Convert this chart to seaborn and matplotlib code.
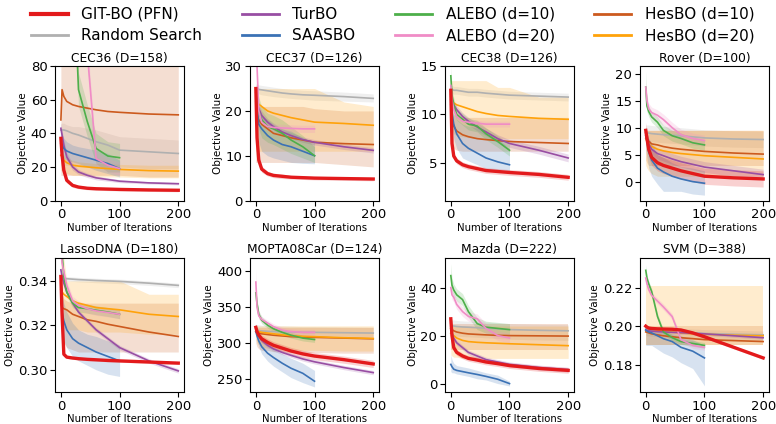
import numpy as np
import pandas as pd
import matplotlib
matplotlib.use("Agg")
import matplotlib.pyplot as plt
from matplotlib.lines import Line2D
import seaborn as sns

# ---------------- data ----------------
METHODS = ["GIT-BO (PFN)", "Random Search", "TurBO", "SAASBO",
           "ALEBO (d=10)", "ALEBO (d=20)", "HesBO (d=10)", "HesBO (d=20)"]
COLORS = ["#e31a1c", "#b0b0b0", "#984ea3", "#3b72b5",
          "#4daf4a", "#f08cc6", "#cc5a1e", "#ffa20a"]
X_FULL = [0, 2, 5, 10, 20, 30, 45, 60, 80, 100, 150, 200]
X_HALF = [0, 2, 5, 10, 20, 30, 45, 60, 80, 100]

TITLES = ["CEC36 (D=158)", "CEC37 (D=126)", "CEC38 (D=126)", "Rover (D=100)",
          "LassoDNA (D=180)", "MOPTA08Car (D=124)", "Mazda (D=222)", "SVM (D=388)"]
YLIMS = [(0, 80), (0, 30), (1.1, 15), (-3.5, 21.4),
         (0.29, 0.3505), (232, 419), (-3.5, 52.5), (0.1658, 0.2356)]
YTICKS = [[0, 20, 40, 60, 80], [0, 10, 20, 30], [5, 10, 15], [0, 5, 10, 15, 20],
          [0.30, 0.32, 0.34], [250, 300, 350, 400], [0, 20, 40], [0.18, 0.20, 0.22]]

# ---- CEC36 ----
CEC36_MEAN = {
    "GIT-BO (PFN)": [37, 27, 18, 12, 9, 8, 7.3, 7, 6.8, 6.6, 6.3, 6.1],
    "Random Search": [42, 42, 42, 41.5, 40, 39, 37, 35, 33, 30, 29, 28],
    "TurBO": [43, 39, 33, 26, 20, 17, 15, 13.5, 12.5, 11.5, 10.5, 10],
    "SAASBO": [34, 33, 31, 29.5, 28, 27, 25.5, 24, 22, 19],
    "ALEBO (d=10)": [150, 150, 150, 150, 150, 66, 47, 31, 26.5, 25.5],
    "ALEBO (d=20)": [150, 150, 150, 150, 150, 150, 88, 25, 21, 19],
    "HesBO (d=10)": [48, 66, 62, 59, 57, 56, 55, 54, 53, 52.5, 51.5, 51],
    "HesBO (d=20)": [27, 26, 24, 22.5, 21, 20.5, 20, 19.5, 19, 18.5, 17.8, 17.5],
}
CEC36_LO = {
    "GIT-BO (PFN)": [35, 24, 16, 10.5, 7.8, 7, 6.4, 6.1, 5.9, 5.7, 5.4, 5.2],
    "Random Search": [21, 21, 21, 21, 21, 20, 20, 20, 20, 20, 19, 19],
    "TurBO": [40, 36, 30, 23.5, 18, 15.5, 13.7, 12.3, 11.5, 10.6, 9.8, 9.3],
    "SAASBO": [27, 26, 25, 24, 23, 22, 20, 18, 16, 14],
    "ALEBO (d=10)": [140, 140, 140, 140, 140, 56, 38, 22, 17, 17],
    "ALEBO (d=20)": [140, 140, 140, 140, 140, 140, 82, 21, 17, 15],
    "HesBO (d=10)": [15, 15, 15, 15, 15, 15, 15, 15, 15, 15, 14, 14],
    "HesBO (d=20)": [18, 18, 17, 16, 15, 15, 14.5, 14, 14, 14, 13.5, 13.5],
}
CEC36_HI = {
    "GIT-BO (PFN)": [39, 30, 20, 13.5, 10.2, 9, 8.2, 7.9, 7.7, 7.5, 7.2, 7],
    "Random Search": [46, 46, 46, 45, 44, 44, 43, 42, 40, 38, 37, 36],
    "TurBO": [46, 42, 36, 28.5, 22, 18.5, 16.3, 14.7, 13.5, 12.4, 11.2, 10.7],
    "SAASBO": [41, 40, 37, 35, 33, 32, 31, 30, 28, 24],
    "ALEBO (d=10)": [160, 160, 160, 160, 160, 76, 57, 40, 35, 34],
    "ALEBO (d=20)": [160, 160, 160, 160, 160, 160, 95, 29, 25, 23],
    "HesBO (d=10)": [90, 90, 90, 90, 90, 90, 90, 90, 90, 90, 90, 90],
    "HesBO (d=20)": [30, 29, 27, 25, 24, 23, 22.5, 22, 22, 21.5, 21, 21],
}

# ---- CEC37 ----
CEC37_MEAN = {
    "GIT-BO (PFN)": [25, 14, 9, 7, 6, 5.6, 5.4, 5.2, 5.1, 5, 4.9, 4.8],
    "Random Search": [25, 25, 24.8, 24.7, 24.5, 24.3, 24, 23.8, 23.6, 23.5, 23.2, 22.8],
    "TurBO": [24, 22, 20.5, 19, 17.5, 16.5, 15.3, 14.5, 13.6, 13, 12, 11.2],
    "SAASBO": [22, 20.5, 17, 16, 14.5, 13.5, 12.5, 12, 11, 10],
    "ALEBO (d=10)": [24, 22, 20, 18, 16.5, 16, 15, 13.5, 12, 10],
    "ALEBO (d=20)": [38, 30, 20, 17.5, 16.5, 16.3, 16.2, 16.1, 16, 16],
    "HesBO (d=10)": [19, 19, 18, 17, 16, 15, 14.5, 14, 13.5, 13, 12.7, 12.5],
    "HesBO (d=20)": [22, 22, 21.5, 21, 20, 19.5, 19, 18.5, 18, 17.5, 17.2, 16.8],
}
CEC37_LO = {
    "GIT-BO (PFN)": [23.5, 12.5, 8, 6.3, 5.5, 5.1, 4.9, 4.8, 4.7, 4.6, 4.5, 4.4],
    "Random Search": [24, 24, 23.8, 23.6, 23.4, 23.2, 23, 22.8, 22.6, 22.4, 22.2, 22],
    "TurBO": [23, 21, 19.5, 18, 16.7, 15.7, 14.6, 13.8, 13, 12.4, 11.4, 10.6],
    "SAASBO": [18, 17, 13, 11, 10, 9.5, 9, 8.5, 8.3, 8.2],
    "ALEBO (d=10)": [22, 19, 16, 14, 13, 12.5, 11.5, 10.5, 9.5, 8.5],
    "ALEBO (d=20)": [37, 29, 19, 16.7, 15.7, 15.5, 15.4, 15.3, 15.2, 15.2],
    "HesBO (d=10)": [8.5, 8.5, 8.5, 8.5, 8.5, 8.5, 8.5, 8.5, 8.5, 8.5, 8, 7.5],
    "HesBO (d=20)": [11, 11, 11, 11, 11, 11, 11, 11, 11, 11, 11, 11],
}
CEC37_HI = {
    "GIT-BO (PFN)": [26.5, 15.5, 10, 7.7, 6.5, 6.1, 5.9, 5.6, 5.5, 5.4, 5.3, 5.2],
    "Random Search": [26, 26, 25.8, 25.7, 25.5, 25.3, 25, 24.8, 24.6, 24.5, 24.2, 23.8],
    "TurBO": [25, 23, 21.5, 20, 18.3, 17.3, 16, 15.2, 14.2, 13.6, 12.6, 11.8],
    "SAASBO": [25, 24, 20, 19, 18, 17, 16, 15.5, 14, 13],
    "ALEBO (d=10)": [26, 25, 23, 21, 19.5, 19, 18, 16.5, 14.5, 12],
    "ALEBO (d=20)": [39, 31, 21, 18.3, 17.3, 17.1, 17, 16.9, 16.8, 16.8],
    "HesBO (d=10)": [21, 21, 21, 21, 21, 21, 21, 21, 21, 20.5, 20, 20],
    "HesBO (d=20)": [25, 25, 25, 25, 25, 25, 25, 25, 25, 25, 22, 21],
}

# ---- CEC38 ----
CEC38_MEAN = {
    "GIT-BO (PFN)": [12.5, 7, 5.7, 5.2, 4.8, 4.6, 4.4, 4.2, 4.1, 4, 3.8, 3.5],
    "Random Search": [12.6, 12.6, 12.5, 12.5, 12.4, 12.3, 12.3, 12.2, 12.1, 12, 11.9, 11.8],
    "TurBO": [12, 11.5, 11, 10.5, 9.8, 9.3, 8.7, 8.2, 7.5, 7, 6.3, 5.5],
    "SAASBO": [11, 10.2, 9, 8, 7, 6.5, 6, 5.5, 5.1, 4.8],
    "ALEBO (d=10)": [14, 12, 11, 10, 9.5, 9, 8.8, 8, 7.2, 6.3],
    "ALEBO (d=20)": [13, 11.5, 10.5, 9.8, 9.3, 9.2, 9.1, 9, 9, 9],
    "HesBO (d=10)": [11.5, 9.5, 8.8, 8.3, 7.9, 7.7, 7.5, 7.4, 7.3, 7.2, 7.1, 7],
    "HesBO (d=20)": [11.8, 11.4, 11.2, 11, 10.8, 10.6, 10.3, 10.1, 9.9, 9.8, 9.6, 9.5],
}
CEC38_LO = {
    "GIT-BO (PFN)": [12.2, 6.6, 5.4, 4.9, 4.5, 4.3, 4.1, 3.9, 3.8, 3.7, 3.5, 3.2],
    "Random Search": [12.2, 12.2, 12.1, 12.1, 12, 11.9, 11.9, 11.8, 11.7, 11.6, 11.5, 11.4],
    "TurBO": [11.6, 11.1, 10.6, 10.1, 9.4, 8.9, 8.3, 7.8, 7.1, 6.6, 5.9, 5.1],
    "SAASBO": [9.5, 8.8, 7.5, 6.5, 5.5, 5.2, 4.8, 4.4, 4.1, 4],
    "ALEBO (d=10)": [13, 11.2, 10.3, 9.4, 8.9, 8.4, 8.2, 7.4, 6.6, 5.7],
    "ALEBO (d=20)": [12.5, 11.2, 10.2, 9.5, 9, 8.9, 8.8, 8.7, 8.7, 8.7],
    "HesBO (d=10)": [8, 7, 6.5, 6.3, 6.2, 6.2, 6.2, 6.2, 6.2, 6.2, 6.2, 6.2],
    "HesBO (d=20)": [9, 8.5, 8, 7.8, 7.7, 7.6, 7.5, 7.5, 7.5, 7.5, 7.5, 7.5],
}
CEC38_HI = {
    "GIT-BO (PFN)": [12.8, 7.4, 6, 5.5, 5.1, 4.9, 4.7, 4.5, 4.4, 4.3, 4.1, 3.8],
    "Random Search": [13, 13, 12.9, 12.9, 12.8, 12.7, 12.7, 12.6, 12.5, 12.4, 12.3, 12.2],
    "TurBO": [12.4, 11.9, 11.4, 10.9, 10.2, 9.7, 9.1, 8.6, 7.9, 7.4, 6.7, 5.9],
    "SAASBO": [12, 11.5, 10.5, 9.5, 9, 8.8, 8.6, 8.2, 7.5, 6.5],
    "ALEBO (d=10)": [15, 12.8, 11.7, 10.6, 10.1, 9.6, 9.4, 8.6, 7.8, 6.9],
    "ALEBO (d=20)": [13.5, 11.8, 10.8, 10.1, 9.6, 9.5, 9.4, 9.3, 9.3, 9.3],
    "HesBO (d=10)": [12, 10.5, 10, 9.8, 9.7, 9.7, 9.7, 9.7, 9.7, 9.7, 9.7, 9.7],
    "HesBO (d=20)": [13.5, 13.5, 13.5, 13.5, 13.5, 13.5, 13.5, 13.5, 12.8, 12.8, 11.8, 11.8],
}

# ---- Rover ----
ROVER_MEAN = {
    "GIT-BO (PFN)": [9.5, 8, 6, 4.5, 3.5, 3, 2.5, 2, 1.5, 1, 0.7, 0.5],
    "Random Search": [9, 9, 9, 8.9, 8.8, 8.7, 8.6, 8.5, 8.3, 8.1, 7.9, 7.8],
    "TurBO": [9, 8, 7, 6, 5.2, 4.8, 4.2, 3.7, 3.2, 2.7, 2, 1.3],
    "SAASBO": [8.5, 7.5, 5.5, 4, 2.5, 1.8, 1, 0.5, 0, -0.3],
    "ALEBO (d=10)": [17.5, 14, 13, 12, 11, 9.5, 8.5, 8, 7.2, 6.8],
    "ALEBO (d=20)": [17.5, 15, 13.5, 12.8, 12.3, 11.5, 10, 8.7, 8, 7.6],
    "HesBO (d=10)": [9, 8, 7.5, 7, 6.8, 6.5, 6.2, 6, 5.8, 5.6, 5.3, 5.1],
    "HesBO (d=20)": [8, 7.5, 7, 6.5, 6, 5.7, 5.4, 5.2, 5, 4.8, 4.5, 4.2],
}
ROVER_LO = {
    "GIT-BO (PFN)": [8, 6.5, 4.5, 3, 2, 1.5, 1, 0.5, 0, -0.5, -0.8, -1],
    "Random Search": [7.5, 7.5, 7.5, 7.4, 7.3, 7.2, 7.1, 7, 6.8, 6.6, 6.4, 6.3],
    "TurBO": [8, 7, 6, 5, 4.2, 3.8, 3.2, 2.7, 2.2, 1.7, 1, 0.3],
    "SAASBO": [6, 4.5, 2.5, 1, -0.5, -1.8, -1.8, -1.8, -2.3, -2.5],
    "ALEBO (d=10)": [15, 13, 12, 11, 10, 8.5, 7.5, 7, 6.2, 5.8],
    "ALEBO (d=20)": [16, 14, 12.5, 11.8, 11.3, 10.5, 9, 7.7, 7, 6.6],
    "HesBO (d=10)": [4, 3.5, 3, 3, 3, 3, 3, 3, 3, 3, 3, 3],
    "HesBO (d=20)": [3, 2.5, 2, 1.5, 1, 1, 1, 1, 1, 1, 1, 1],
}
ROVER_HI = {
    "GIT-BO (PFN)": [11, 9.5, 7.5, 6, 5, 4.5, 4, 3.5, 3, 2.5, 2.2, 2],
    "Random Search": [10.5, 10.5, 10.5, 10.4, 10.3, 10.2, 10.1, 10, 9.8, 9.6, 9.4, 9.3],
    "TurBO": [10, 9, 8, 7, 6.2, 5.8, 5.2, 4.7, 4.2, 3.7, 3, 2.3],
    "SAASBO": [10, 9, 8, 7, 5, 4.5, 3.5, 2.8, 2.5, 2],
    "ALEBO (d=10)": [20.5, 15, 14, 13, 12, 10.5, 9.5, 9, 8.2, 7.8],
    "ALEBO (d=20)": [19, 16, 14.5, 13.8, 13.3, 12.5, 11, 9.7, 9, 8.6],
    "HesBO (d=10)": [9.5, 9.5, 9.5, 9.5, 9.5, 9.5, 9.5, 9.5, 9.5, 9.5, 9.5, 9.5],
    "HesBO (d=20)": [9.5, 9.5, 9.5, 9.5, 9.5, 9.5, 9.5, 9.5, 9.5, 9.5, 9.5, 9.5],
}

# ---- LassoDNA ----
LASSO_MEAN = {
    "GIT-BO (PFN)": [0.342, 0.325, 0.307, 0.3057, 0.3053, 0.305, 0.3047, 0.3045, 0.3042, 0.304, 0.3035, 0.303],
    "Random Search": [0.3415, 0.3413, 0.341, 0.341, 0.3408, 0.3406, 0.3404, 0.3402, 0.340, 0.3398, 0.339, 0.338],
    "TurBO": [0.345, 0.342, 0.339, 0.335, 0.330, 0.326, 0.322, 0.318, 0.314, 0.310, 0.304, 0.2995],
    "SAASBO": [0.335, 0.326, 0.322, 0.318, 0.314, 0.312, 0.310, 0.308, 0.306, 0.304],
    "ALEBO (d=10)": [0.360, 0.352, 0.342, 0.335, 0.330, 0.328, 0.3275, 0.3268, 0.326, 0.325],
    "ALEBO (d=20)": [0.355, 0.348, 0.344, 0.338, 0.331, 0.329, 0.3275, 0.3265, 0.3258, 0.325],
    "HesBO (d=10)": [0.330, 0.328, 0.3275, 0.327, 0.325, 0.324, 0.3225, 0.3218, 0.3205, 0.3195, 0.317, 0.315],
    "HesBO (d=20)": [0.336, 0.335, 0.334, 0.333, 0.331, 0.330, 0.329, 0.328, 0.3275, 0.327, 0.325, 0.324],
}
LASSO_LO = {
    "GIT-BO (PFN)": [0.3412, 0.3242, 0.3063, 0.3051, 0.3047, 0.3044, 0.3041, 0.3039, 0.3036, 0.3034, 0.3029, 0.3024],
    "Random Search": [0.3405, 0.3403, 0.340, 0.340, 0.3398, 0.3396, 0.3394, 0.3392, 0.339, 0.3388, 0.338, 0.337],
    "TurBO": [0.344, 0.341, 0.338, 0.334, 0.329, 0.325, 0.321, 0.317, 0.313, 0.309, 0.303, 0.2985],
    "SAASBO": [0.330, 0.318, 0.313, 0.310, 0.306, 0.304, 0.302, 0.300, 0.298, 0.297],
    "ALEBO (d=10)": [0.356, 0.349, 0.340, 0.333, 0.328, 0.326, 0.3255, 0.3248, 0.324, 0.323],
    "ALEBO (d=20)": [0.352, 0.346, 0.342, 0.336, 0.329, 0.327, 0.3255, 0.3245, 0.3238, 0.323],
    "HesBO (d=10)": [0.320, 0.315, 0.312, 0.310, 0.309, 0.308, 0.308, 0.308, 0.308, 0.308, 0.308, 0.308],
    "HesBO (d=20)": [0.325, 0.322, 0.320, 0.318, 0.318, 0.318, 0.317, 0.317, 0.317, 0.317, 0.316, 0.316],
}
LASSO_HI = {
    "GIT-BO (PFN)": [0.3428, 0.3258, 0.3077, 0.3063, 0.3059, 0.3056, 0.3053, 0.3051, 0.3048, 0.3046, 0.3041, 0.3036],
    "Random Search": [0.3425, 0.3423, 0.342, 0.342, 0.3418, 0.3416, 0.3414, 0.3412, 0.341, 0.3408, 0.340, 0.339],
    "TurBO": [0.346, 0.343, 0.340, 0.336, 0.331, 0.327, 0.323, 0.319, 0.315, 0.311, 0.305, 0.3005],
    "SAASBO": [0.340, 0.334, 0.330, 0.326, 0.321, 0.318, 0.316, 0.315, 0.313, 0.311],
    "ALEBO (d=10)": [0.364, 0.355, 0.344, 0.337, 0.332, 0.330, 0.3295, 0.3288, 0.328, 0.327],
    "ALEBO (d=20)": [0.358, 0.350, 0.346, 0.340, 0.333, 0.331, 0.3295, 0.3285, 0.3278, 0.327],
    "HesBO (d=10)": [0.337, 0.334, 0.332, 0.331, 0.330, 0.330, 0.330, 0.330, 0.330, 0.330, 0.330, 0.330],
    "HesBO (d=20)": [0.350, 0.350, 0.350, 0.340, 0.340, 0.340, 0.340, 0.340, 0.340, 0.340, 0.334, 0.334],
}

# ---- MOPTA08Car ----
MOPTA_MEAN = {
    "GIT-BO (PFN)": [322, 316, 311, 306, 301, 297, 293, 289, 285, 282, 277, 271],
    "Random Search": [318, 318, 317.5, 317, 316.5, 316, 316, 315.5, 315, 315, 314.5, 314],
    "TurBO": [320, 315, 310, 304, 297, 292, 287, 283, 278, 274, 266, 259],
    "SAASBO": [316, 310, 303, 295, 286, 280, 272, 265, 258, 247],
    "ALEBO (d=10)": [370, 355, 340, 332, 325, 320, 315, 311, 307, 305],
    "ALEBO (d=20)": [385, 350, 338, 333, 328, 323, 318, 316, 315, 315],
    "HesBO (d=10)": [316, 315, 314, 313, 312, 311, 310, 309, 308.5, 308, 307, 306],
    "HesBO (d=20)": [317, 316.5, 316, 315, 314, 313, 311.5, 310.5, 309.5, 309, 307.5, 306.5],
}
MOPTA_LO = {
    "GIT-BO (PFN)": [317, 311, 306, 301, 296, 292, 288, 284, 280, 277, 272, 266],
    "Random Search": [313, 313, 312.5, 312, 311.5, 311, 311, 310.5, 310, 310, 309.5, 309],
    "TurBO": [317, 312, 307, 301, 294, 289, 284, 280, 275, 271, 263, 256],
    "SAASBO": [312, 304, 295, 285, 275, 268, 260, 252, 245, 239],
    "ALEBO (d=10)": [360, 349, 335, 327, 321, 316, 311, 307, 303, 301],
    "ALEBO (d=20)": [365, 343, 333, 329, 324, 319, 314, 312, 311, 311],
    "HesBO (d=10)": [300, 295, 292, 290, 290, 288, 288, 287, 287, 287, 286, 286],
    "HesBO (d=20)": [305, 300, 298, 295, 293, 292, 291, 290, 290, 290, 289, 289],
}
MOPTA_HI = {
    "GIT-BO (PFN)": [327, 321, 316, 311, 306, 302, 298, 294, 290, 287, 282, 276],
    "Random Search": [326, 326, 325.5, 325, 324.5, 324, 324, 323.5, 323, 323, 322.5, 322],
    "TurBO": [323, 318, 313, 307, 300, 295, 290, 286, 281, 277, 269, 262],
    "SAASBO": [320, 316, 311, 305, 297, 292, 285, 279, 272, 262],
    "ALEBO (d=10)": [380, 361, 345, 337, 329, 324, 319, 315, 311, 309],
    "ALEBO (d=20)": [405, 357, 343, 337, 332, 327, 322, 320, 319, 319],
    "HesBO (d=10)": [322, 322, 322, 322, 322, 322, 322, 322, 322, 322, 322, 322],
    "HesBO (d=20)": [324, 324, 324, 324, 324, 324, 324, 324, 324, 324, 324, 324],
}

# ---- Mazda ----
MAZDA_MEAN = {
    "GIT-BO (PFN)": [27, 20, 15, 13, 11.5, 10.5, 9.8, 9, 8.3, 7.5, 6.3, 5.5],
    "Random Search": [24, 24, 24, 23.8, 23.6, 23.5, 23.3, 23.1, 22.8, 22.5, 22.2, 22],
    "TurBO": [25, 21, 19, 17, 15, 13, 11.5, 10, 9, 8, 6.7, 5.8],
    "SAASBO": [8, 7, 6, 5.5, 5, 4.5, 3.8, 3, 1.8, 0],
    "ALEBO (d=10)": [45, 41, 39, 37, 35, 30, 25, 23.5, 23, 22.5],
    "ALEBO (d=20)": [40, 37, 36, 33, 30, 28, 27, 23, 20, 19],
    "HesBO (d=10)": [23, 22.5, 22, 21.5, 21, 20.7, 20.5, 20.3, 20.1, 20, 19.9, 19.8],
    "HesBO (d=20)": [21, 20.5, 20, 19, 18, 17.5, 17.2, 17, 16.8, 16.6, 16.2, 15.8],
}
MAZDA_LO = {
    "GIT-BO (PFN)": [25.8, 18.8, 13.8, 11.8, 10.3, 9.3, 8.6, 7.8, 7.1, 6.3, 5.1, 4.3],
    "Random Search": [20, 20, 20, 19.8, 19.6, 19.5, 19.3, 19.1, 18.8, 18.5, 18.2, 18],
    "TurBO": [24, 20, 18, 16, 14, 12, 10.5, 9, 8, 7, 5.7, 4.8],
    "SAASBO": [5, 4.5, 4.5, 4, 3.5, 3, 2, 1.5, 0, -1],
    "ALEBO (d=10)": [40, 38, 36.5, 34.5, 32.5, 27.5, 22.5, 21, 20.5, 20],
    "ALEBO (d=20)": [38, 35, 34, 31, 28, 26, 25, 21, 18, 17],
    "HesBO (d=10)": [14, 14, 14, 14, 14, 14, 14, 14, 14, 14, 14, 14],
    "HesBO (d=20)": [12, 11.5, 11, 11, 10.5, 10.5, 10.5, 10.5, 10.5, 10.5, 10.5, 10.5],
}
MAZDA_HI = {
    "GIT-BO (PFN)": [28.2, 21.2, 16.2, 14.2, 12.7, 11.7, 11, 10.2, 9.5, 8.7, 7.5, 6.7],
    "Random Search": [26.5, 26.5, 26.5, 26.3, 26.1, 26, 25.8, 25.6, 25.3, 25, 24.7, 24.5],
    "TurBO": [26, 22, 20, 18, 16, 14, 12.5, 11, 10, 9, 7.7, 6.8],
    "SAASBO": [12, 10, 8.5, 7.5, 7, 6.5, 5.5, 4.5, 3.5, 1],
    "ALEBO (d=10)": [50, 44, 41.5, 39.5, 37.5, 32.5, 27.5, 26, 25.5, 25],
    "ALEBO (d=20)": [42, 39, 38, 35, 32, 30, 29, 25, 22, 21],
    "HesBO (d=10)": [25, 25, 25, 25, 25, 25, 25, 25, 25, 25, 25, 25],
    "HesBO (d=20)": [24, 24, 24, 24, 24, 24, 24, 24, 24, 24, 24, 24],
}

# ---- SVM ----
SVM_MEAN = {
    "GIT-BO (PFN)": [0.200, 0.1995, 0.199, 0.1988, 0.1986, 0.1985, 0.1984, 0.198, 0.1965, 0.1945, 0.189, 0.1835],
    "Random Search": [0.1985, 0.198, 0.198, 0.1978, 0.1975, 0.1972, 0.197, 0.1968, 0.1965, 0.1962, 0.1958, 0.1955],
    "TurBO": [0.198, 0.1978, 0.1976, 0.1974, 0.1972, 0.197, 0.1968, 0.1966, 0.1963, 0.196, 0.195, 0.194],
    "SAASBO": [0.198, 0.1975, 0.197, 0.1965, 0.195, 0.1935, 0.192, 0.189, 0.187, 0.1835],
    "ALEBO (d=10)": [0.229, 0.225, 0.222, 0.218, 0.205, 0.197, 0.194, 0.192, 0.191, 0.190],
    "ALEBO (d=20)": [0.225, 0.222, 0.219, 0.216, 0.213, 0.210, 0.205, 0.193, 0.190, 0.189],
    "HesBO (d=10)": [0.197, 0.1968, 0.1965, 0.196, 0.1955, 0.195, 0.1945, 0.194, 0.1935, 0.193, 0.1925, 0.192],
    "HesBO (d=20)": [0.200, 0.1995, 0.199, 0.1985, 0.198, 0.1975, 0.197, 0.1965, 0.196, 0.1958, 0.1953, 0.195],
}
SVM_LO = {
    "GIT-BO (PFN)": [0.1992, 0.1987, 0.1982, 0.198, 0.1978, 0.1977, 0.1976, 0.1972, 0.1957, 0.1937, 0.1882, 0.1827],
    "Random Search": [0.1955, 0.195, 0.195, 0.1948, 0.1945, 0.1942, 0.194, 0.1938, 0.1935, 0.1932, 0.1928, 0.1925],
    "TurBO": [0.1972, 0.197, 0.1968, 0.1966, 0.1964, 0.1962, 0.196, 0.1958, 0.1955, 0.1952, 0.1942, 0.1932],
    "SAASBO": [0.190, 0.190, 0.190, 0.190, 0.188, 0.186, 0.184, 0.181, 0.178, 0.169],
    "ALEBO (d=10)": [0.226, 0.2235, 0.2205, 0.2165, 0.2035, 0.1955, 0.1925, 0.1905, 0.1895, 0.1885],
    "ALEBO (d=20)": [0.222, 0.2205, 0.2175, 0.2145, 0.2115, 0.2085, 0.2035, 0.1915, 0.1885, 0.1875],
    "HesBO (d=10)": [0.190, 0.190, 0.190, 0.190, 0.190, 0.190, 0.190, 0.190, 0.190, 0.190, 0.190, 0.190],
    "HesBO (d=20)": [0.190, 0.190, 0.190, 0.190, 0.190, 0.190, 0.190, 0.190, 0.190, 0.190, 0.190, 0.190],
}
SVM_HI = {
    "GIT-BO (PFN)": [0.2008, 0.2003, 0.1998, 0.1996, 0.1994, 0.1993, 0.1992, 0.1988, 0.1973, 0.1953, 0.1898, 0.1843],
    "Random Search": [0.2005, 0.200, 0.200, 0.1998, 0.1995, 0.1992, 0.199, 0.1988, 0.1985, 0.1982, 0.1978, 0.1975],
    "TurBO": [0.1988, 0.1986, 0.1984, 0.1982, 0.198, 0.1978, 0.1976, 0.1974, 0.1971, 0.1968, 0.1958, 0.1948],
    "SAASBO": [0.200, 0.200, 0.200, 0.1995, 0.1985, 0.197, 0.196, 0.195, 0.193, 0.190],
    "ALEBO (d=10)": [0.232, 0.2265, 0.2235, 0.2195, 0.2065, 0.1985, 0.1955, 0.1935, 0.1925, 0.1915],
    "ALEBO (d=20)": [0.228, 0.2235, 0.2205, 0.2175, 0.2145, 0.2115, 0.2065, 0.1945, 0.1915, 0.1905],
    "HesBO (d=10)": [0.200, 0.200, 0.200, 0.200, 0.200, 0.200, 0.200, 0.200, 0.200, 0.200, 0.200, 0.200],
    "HesBO (d=20)": [0.221, 0.221, 0.221, 0.221, 0.221, 0.221, 0.221, 0.221, 0.221, 0.221, 0.221, 0.221],
}

PANELS = [
    (CEC36_MEAN, CEC36_LO, CEC36_HI), (CEC37_MEAN, CEC37_LO, CEC37_HI),
    (CEC38_MEAN, CEC38_LO, CEC38_HI), (ROVER_MEAN, ROVER_LO, ROVER_HI),
    (LASSO_MEAN, LASSO_LO, LASSO_HI), (MOPTA_MEAN, MOPTA_LO, MOPTA_HI),
    (MAZDA_MEAN, MAZDA_LO, MAZDA_HI), (SVM_MEAN, SVM_LO, SVM_HI),
]

# ---------------- plot ----------------
plt.rcParams["font.family"] = ["DejaVu Sans"]
fig, axes = plt.subplots(2, 4, figsize=(7.76, 4.24), dpi=100)
fig.subplots_adjust(left=0.0709, right=0.991, top=0.844, bottom=0.0755,
                    wspace=0.51, hspace=0.425)

color_of = dict(zip(METHODS, COLORS))
draw_order = ["Random Search", "HesBO (d=10)", "HesBO (d=20)", "TurBO", "SAASBO",
              "ALEBO (d=10)", "ALEBO (d=20)", "GIT-BO (PFN)"]

for ax, title, ylim, yticks, (mean, lo, hi) in zip(axes.flat, TITLES, YLIMS, YTICKS, PANELS):
    frames = []
    for m in METHODS:
        xs = X_FULL if len(mean[m]) == len(X_FULL) else X_HALF
        frames.append(pd.DataFrame({"iter": xs, "value": mean[m], "lo": lo[m],
                                    "hi": hi[m], "method": m}))
    df = pd.concat(frames, ignore_index=True)
    for m in draw_order:
        d = df[df.method == m]
        ax.fill_between(d["iter"], d["lo"], d["hi"], color=color_of[m],
                        alpha=0.2, linewidth=0)
    for m in draw_order:
        d = df[df.method == m]
        sns.lineplot(data=d, x="iter", y="value", color=color_of[m],
                     linewidth=2.4 if m == "GIT-BO (PFN)" else 1.2,
                     ax=ax, legend=False, errorbar=None)
    ax.set_xlim(-10, 210)
    ax.set_xticks([0, 100, 200])
    ax.set_ylim(*ylim)
    ax.set_yticks(yticks)
    ax.set_title(title, fontsize=8.8, pad=3)
    ax.set_xlabel("Number of Iterations", fontsize=7.3, labelpad=1)
    ax.set_ylabel("Objective Value", fontsize=7.5, labelpad=2)
    ax.tick_params(labelsize=9.5, length=3.5, pad=2)

handles = [Line2D([0], [0], color=c, lw=3.0 if m == "GIT-BO (PFN)" else 2.0)
           for m, c in zip(METHODS, COLORS)]
fig.legend(handles, METHODS, loc="upper center", ncol=4, frameon=False,
           fontsize=11, bbox_to_anchor=(0.506, 1.016), handlelength=2.4,
           columnspacing=2.6, labelspacing=0.4, handletextpad=0.9)

fig.savefig("out.png", dpi=100)
